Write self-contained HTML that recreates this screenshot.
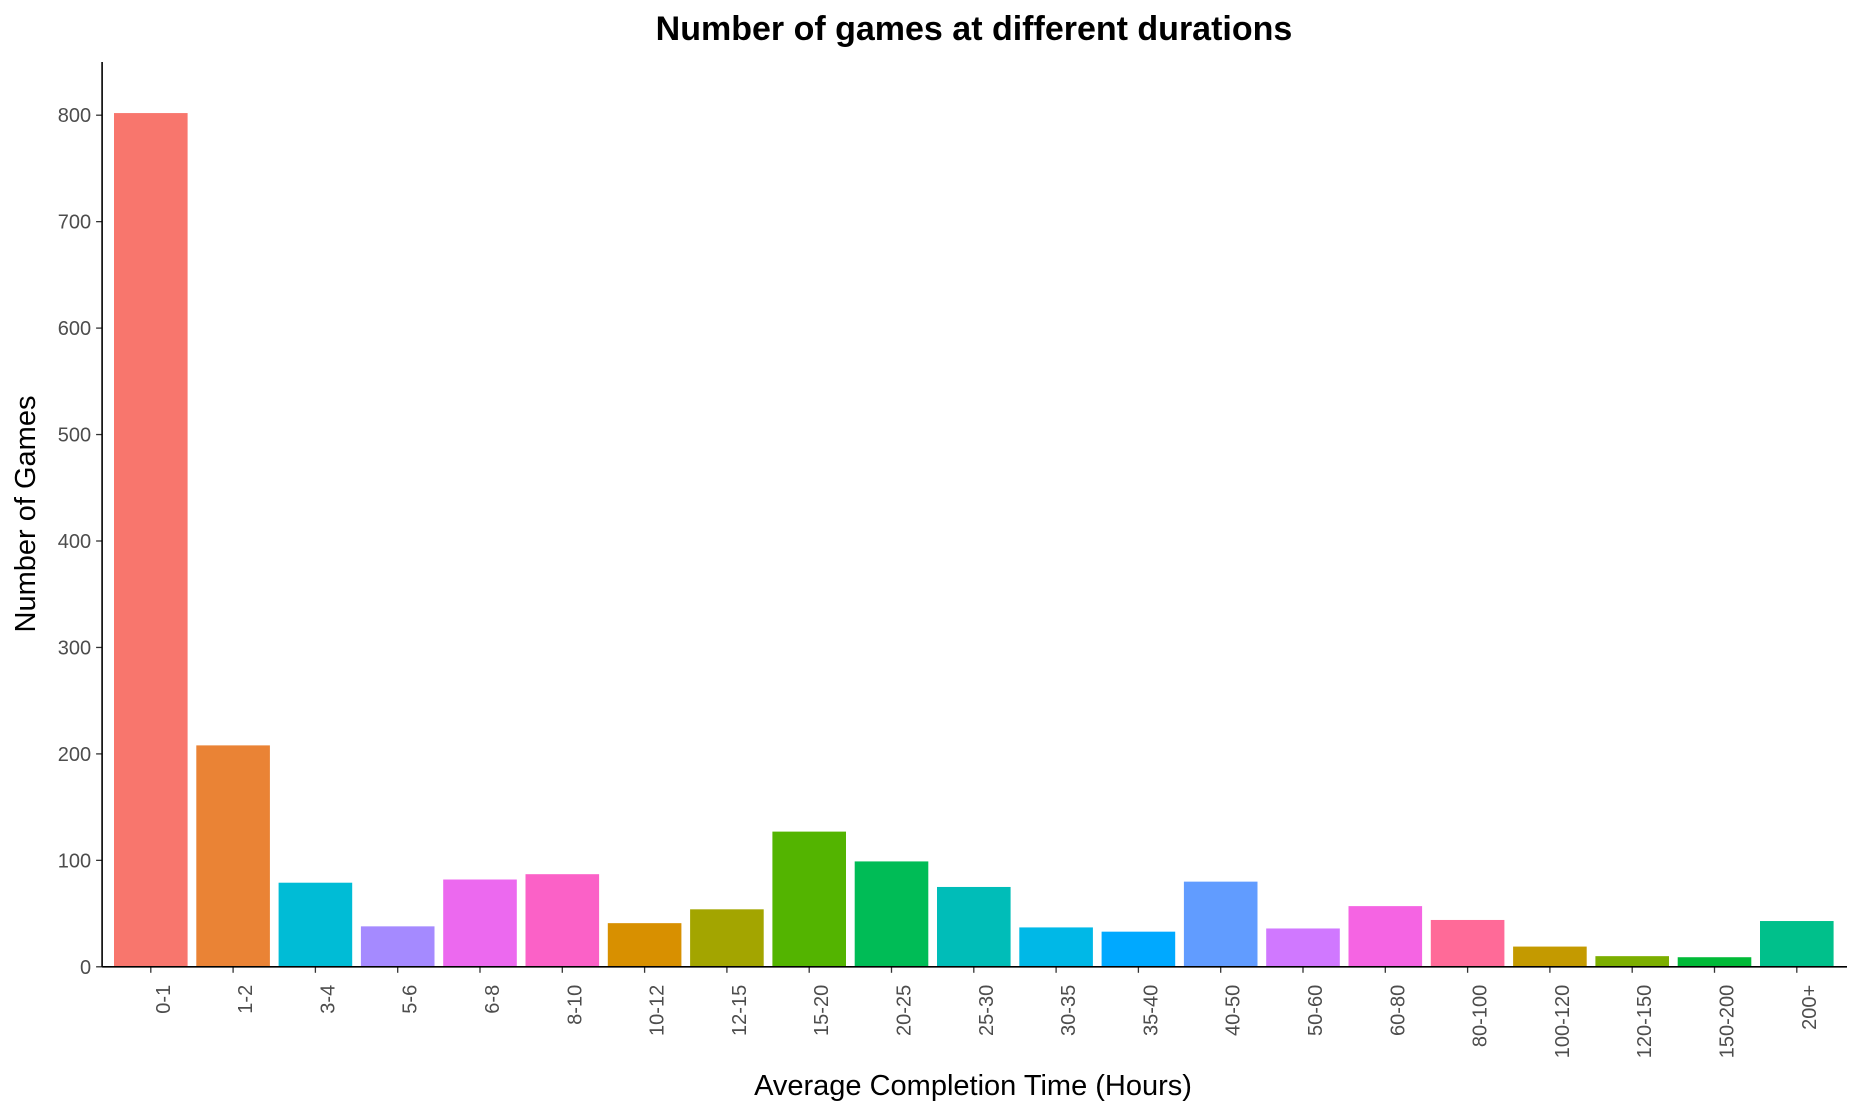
<!DOCTYPE html>
<html><head><meta charset="utf-8"><style>
html,body{margin:0;padding:0;background:#fff;}
svg{display:block;font-family:"Liberation Sans",sans-serif;}
</style></head><body>
<svg id="chart" width="1862" height="1116">
<text x="974" y="40" text-anchor="middle" font-size="34" font-weight="bold" fill="#000">Number of games at different durations</text>
<text x="973" y="1095" text-anchor="middle" font-size="29" fill="#000">Average Completion Time (Hours)</text>
<text transform="translate(35,514) rotate(-90)" text-anchor="middle" font-size="29" fill="#000">Number of Games</text>
<g id="bars"></g><g id="axes"></g>
</svg>
<script>
const categories = ["0-1","1-2","3-4","5-6","6-8","8-10","10-12","12-15","15-20","20-25","25-30","30-35","35-40","40-50","50-60","60-80","80-100","100-120","120-150","150-200","200+"];
const counts = [802,208,79,38,82,87,41,54,127,99,75,37,33,80,36,57,44,19,10,9,43];
const colors = ["#F8766D","#EA8335","#00BCD6","#A58AFF","#EC69EF","#FB61C7","#D89000","#A3A500","#53B400","#00BC56","#00BDB8","#00B8E7","#00A9FF","#619CFF","#D078FF","#F564E3","#FF6A98","#C49A00","#7CAE00","#00BA38","#00C08B"];
const yTicks = [0,100,200,300,400,500,600,700,800];

const NS="http://www.w3.org/2000/svg";
const x0=102.1, xr=1847, y0=966.8, y800=115.2, ytop=62;
const step=82.3, firstC=150.8, bw=73.6;
function xs(i){return firstC+i*step;}
function ys(v){return y0-(y0-y800)*v/800;}
function mk(t,a,p){const e=document.createElementNS(NS,t);for(const k in a)e.setAttribute(k,a[k]);p.appendChild(e);return e;}
const bars=document.getElementById('bars'), axes=document.getElementById('axes');
categories.forEach((c,i)=>{
  const r=mk('rect',{x:xs(i)-bw/2,y:ys(counts[i]),width:bw,height:y0-ys(counts[i]),fill:colors[i]},bars);
  
  
  const t=mk('line',{x1:xs(i),x2:xs(i),y1:y0,y2:y0+6,stroke:'#333','stroke-width':1.3},axes);
  
  
  const l=mk('text',{transform:`translate(${xs(i)+19},${y0+18}) rotate(-90)`,'text-anchor':'end','font-size':20,fill:'#4d4d4d'},axes);
  l.textContent=c;
  
  
});
yTicks.forEach(v=>{
  const t=mk('line',{x1:x0-6,x2:x0,y1:ys(v),y2:ys(v),stroke:'#333','stroke-width':1.3},axes);
  
  
  const l=mk('text',{x:x0-11,y:ys(v)+7,'text-anchor':'end','font-size':20,fill:'#4d4d4d'},axes);
  l.textContent=v;
  
  
});
const ya=mk('line',{x1:x0,x2:x0,y1:ytop,y2:y0,stroke:'#000','stroke-width':1.6},axes);


const xa=mk('line',{x1:x0,x2:xr,y1:y0,y2:y0,stroke:'#000','stroke-width':1.6},axes);


</script>
</body></html>
